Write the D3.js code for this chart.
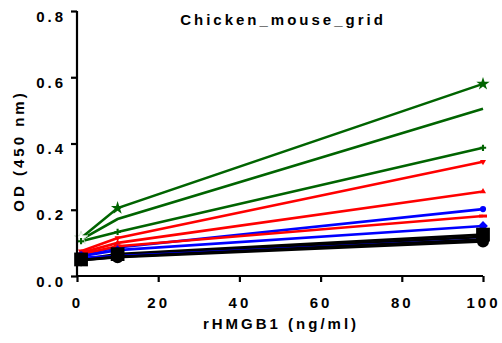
<!DOCTYPE html>
<html>
<head>
<meta charset="utf-8">
<script src="https://cdn.jsdelivr.net/npm/d3@7"></script>
<style>
  html, body { margin: 0; padding: 0; background: #fff; }
  svg text { font-family: "Liberation Sans", Arial, sans-serif; font-weight: bold; fill: #000; }
</style>
</head>
<body>
<svg id="chart" width="502" height="343"></svg>
<script>
// rHMGB1 concentrations (ng/ml)
const doses = [1, 10, 100];

// OD readings per dilution series
const seriesNames = ["g1", "g2", "g3", "r1", "r2", "b1", "r3", "b2", "k1", "k2", "b3", "k3", "k4"];
const seriesColors = ["#006400", "#006400", "#006400", "#ff0000", "#ff0000", "#0000ff", "#ff0000", "#0000ff", "#000000", "#000000", "#0000ff", "#000000", "#000000"];
const seriesSymbols = ["star", "none", "plus", "triDown", "triUp", "circle", "dash", "diamond", "square", "none", "none", "none", "bigCircle"];
const seriesValues = [
  [0.115, 0.205, 0.580],
  [0.110, 0.172, 0.505],
  [0.105, 0.133, 0.387],
  [0.075, 0.115, 0.345],
  [0.070, 0.100, 0.255],
  [0.065, 0.086, 0.202],
  [0.066, 0.090, 0.181],
  [0.060, 0.078, 0.151],
  [0.050, 0.066, 0.125],
  [0.050, 0.062, 0.118],
  [0.055, 0.060, 0.110],
  [0.048, 0.058, 0.110],
  [0.048, 0.057, 0.104]
];

const xTicks = [0, 20, 40, 60, 80, 100];
const yTicks = [0.0, 0.2, 0.4, 0.6, 0.8];

const svg = d3.select("#chart");
const x = d3.scaleLinear().domain([0, 100]).range([77, 483]);
const y = d3.scaleLinear().domain([0, 0.8]).range([276, 11]);

// Series lines
const line = d3.line().x((d, i) => x(doses[i])).y(d => y(d));
const plot = svg.append("g");
seriesValues.forEach((vals, s) => {
  plot.append("path")
    .attr("d", line(vals))
    .attr("fill", "none")
    .attr("stroke", seriesColors[s])
    .attr("stroke-width", 2.6);
});

// Point symbols
const symbolDefs = {
  star: { type: d3.symbolStar, size: 55 },
  plus: { type: d3.symbolCross, size: 22 },
  triDown: { type: d3.symbolTriangle, size: 16, rotate: 180 },
  triUp: { type: d3.symbolTriangle, size: 16 },
  circle: { type: d3.symbolCircle, size: 30 },
  dash: { type: d3.symbolSquare, size: 12, dash: true },
  diamond: { type: d3.symbolSquare, size: 48, rotate: 45 },
  square: { type: d3.symbolSquare, size: 190 },
  bigCircle: { type: d3.symbolCircle, size: 115 }
};
seriesValues.forEach((vals, s) => {
  const def = symbolDefs[seriesSymbols[s]];
  if (!def) return;
  vals.forEach((v, i) => {
    const g = plot.append("g")
      .attr("transform", `translate(${x(doses[i])},${y(v)})` + (def.rotate ? ` rotate(${def.rotate})` : ""));
    // the lowest-dose green markers sit in a crowded corner and are drawn hollow
    const hollow = i === 0 && seriesColors[s] === "#006400" && def.type === d3.symbolStar;
    if (def.dash) {
      g.append("rect").attr("x", -4).attr("y", -1.5).attr("width", 8).attr("height", 3)
        .attr("fill", seriesColors[s]);
    } else {
      g.append("path").attr("d", d3.symbol().type(def.type).size(def.size)())
        .attr("fill", hollow ? "#fff" : seriesColors[s])
        .attr("stroke", hollow ? "#cfe3cf" : "none")
        .attr("stroke-width", 1);
    }
  });
});

// Axes
const xAxis = svg.append("g").attr("transform", "translate(0,276)")
  .call(d3.axisBottom(x).tickValues(xTicks).tickFormat(d3.format("d")).tickSize(6).tickPadding(15));
const yAxis = svg.append("g").attr("transform", "translate(77,0)")
  .call(d3.axisLeft(y).tickValues(yTicks).tickFormat(d3.format(".1f")).tickSize(6).tickPadding(5));
[xAxis, yAxis].forEach(a => {
  a.select(".domain").attr("stroke", "#000").attr("stroke-width", 2.2);
  a.selectAll(".tick line").attr("stroke", "#000").attr("stroke-width", 2.2);
  a.selectAll(".tick text").attr("font-size", 15).style("letter-spacing", "3px")
    .style("font-family", "'Liberation Sans', Arial, sans-serif").style("font-weight", "bold");
});
yAxis.selectAll(".tick text").attr("dy", "0.67em");
xAxis.select(".domain").attr("d", `M${x(0)},0H${x(100)}`);
yAxis.select(".domain").attr("d", `M0,${y(0)}V${y(0.8)}`);

// Titles
svg.append("text").attr("x", 283).attr("y", 25).attr("text-anchor", "middle")
  .attr("font-size", 15).style("letter-spacing", "3px").text("Chicken_mouse_grid");
svg.append("text").attr("x", 281).attr("y", 329).attr("text-anchor", "middle")
  .attr("font-size", 15).style("letter-spacing", "3px").text("rHMGB1 (ng/ml)");
svg.append("text").attr("transform", "translate(24,151) rotate(-90)").attr("text-anchor", "middle")
  .attr("font-size", 15).style("letter-spacing", "3px").text("OD (450 nm)");
</script>
</body>
</html>
